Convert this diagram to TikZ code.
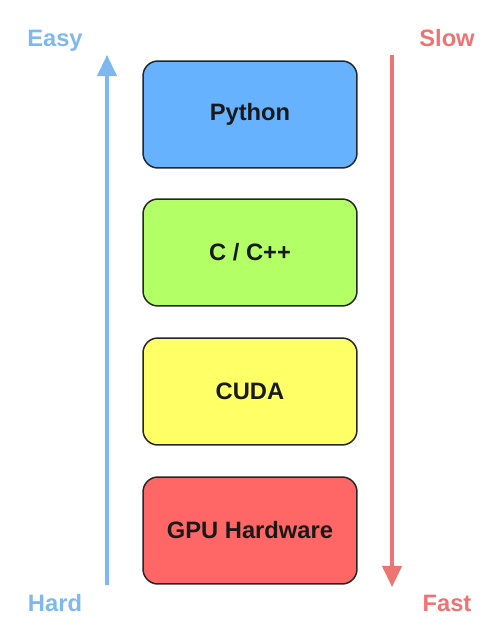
\documentclass[tikz,border=0pt]{standalone}
\usepackage{fontspec}
\setmainfont{Liberation Sans}
\usetikzlibrary{arrows.meta}
\tikzset{
  layerbox/.style={draw=black!85, line width=0.85pt, rounded corners=8.5pt,
    minimum width=4.28cm, minimum height=2.14cm,
    font=\bfseries\fontsize{13.5}{16}\selectfont, text=black!90},
  sidelabel/.style={anchor=base, font=\bfseries\fontsize{13.5}{16}\selectfont},
  axisarrow/.style={line width=1.9pt, -{Triangle[length=12pt,width=11pt]}}
}
\begin{document}
\begin{tikzpicture}[x=0.02cm, y=-0.02cm]
\definecolor{layerpython}{HTML}{66B2FF}
\definecolor{layercpp}{HTML}{B3FF66}
\definecolor{layercuda}{HTML}{FFFF66}
\definecolor{layergpu}{HTML}{FF6666}
\definecolor{easyblue}{HTML}{7DB9F0}
\definecolor{slowred}{HTML}{EE7373}
\useasboundingbox (0,0) rectangle (500,617);
% stack of layers
\node[layerbox, fill=layerpython] (python) at (250,114.5) {Python};
\node[layerbox, fill=layercpp] (cpp) at (250,252.5) {C / C++};
\node[layerbox, fill=layercuda] (cuda) at (250,391.5) {CUDA};
\node[layerbox, fill=layergpu] (gpu) at (250,530.5) {GPU Hardware};
% side labels
\node[sidelabel, text=easyblue] (easy) at (55,46.5) {Easy};
\node[sidelabel, text=easyblue] (hard) at (55,611.5) {Hard};
\node[sidelabel, text=slowred] (slow) at (447,46.5) {Slow};
\node[sidelabel, text=slowred] (fast) at (447,611.5) {Fast};
% arrows
\coordinate (hardend) at (107,585);
\coordinate (easyend) at (107,55);
\coordinate (slowend) at (392,55);
\coordinate (fastend) at (392,587);
\draw[axisarrow, easyblue] (hardend) -- (easyend);
\draw[axisarrow, slowred] (slowend) -- (fastend);
\end{tikzpicture}
\end{document}
